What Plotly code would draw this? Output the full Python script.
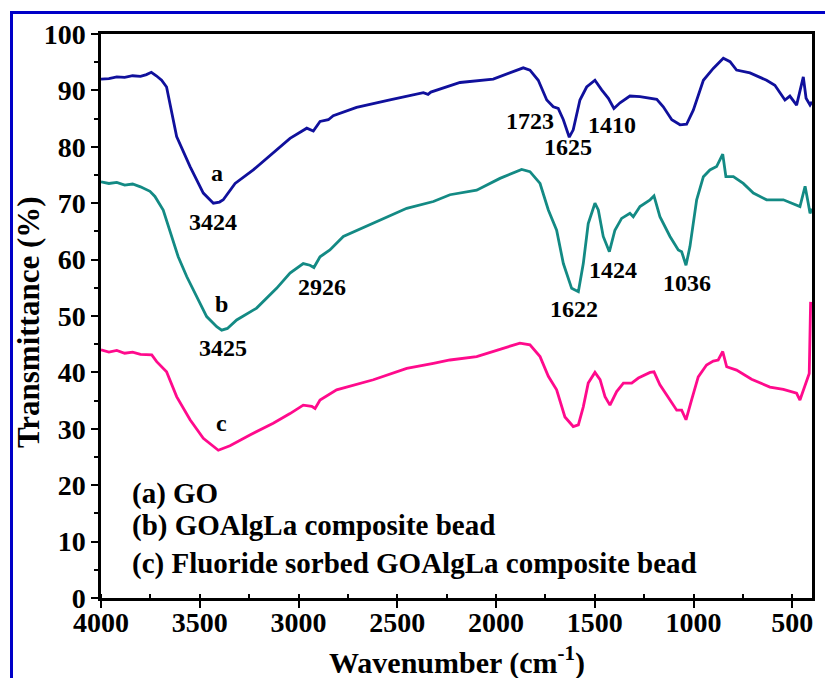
import plotly.graph_objects as go

# ---- data ----
wn_a = [4000, 3960, 3920, 3880, 3840, 3800, 3770, 3745, 3720, 3693,
        3668, 3617, 3549, 3482, 3431, 3400, 3381, 3321, 3229, 3144,
        3043, 2958, 2925, 2891, 2849, 2824, 2706, 2537, 2368, 2344,
        2330, 2182, 2014, 1862, 1828, 1786, 1743, 1710, 1685, 1659,
        1629, 1609, 1575, 1541, 1499, 1465, 1431, 1403, 1372, 1322,
        1271, 1186, 1153, 1110, 1068, 1035, 1001, 950, 900, 849,
        815, 782, 714, 630, 588, 537, 512, 478, 461, 444,
        430, 410, 400]
t_a = [92.0, 92.1, 92.4, 92.3, 92.6, 92.5, 92.8, 93.2, 92.6, 91.8,
       90.6, 81.8, 76.5, 71.8, 70.0, 70.2, 70.6, 73.5, 75.9, 78.5,
       81.5, 83.3, 82.8, 84.5, 84.8, 85.5, 87.0, 88.3, 89.6, 89.3,
       89.7, 91.4, 92.0, 94.0, 93.6, 91.8, 88.3, 87.1, 86.8, 84.8,
       81.7, 83.0, 88.3, 90.6, 91.8, 90.1, 88.6, 86.8, 87.8, 89.0,
       88.9, 88.4, 87.1, 84.8, 83.9, 84.0, 86.5, 91.8, 93.9, 95.7,
       95.1, 93.6, 93.1, 91.8, 90.9, 88.3, 89.0, 87.4, 90.1, 92.4,
       88.6, 87.4, 88.0]

wn_b = [4000, 3960, 3920, 3880, 3840, 3800, 3752, 3727, 3685, 3651,
        3609, 3566, 3516, 3465, 3414, 3389, 3360, 3313, 3212, 3111,
        3043, 2976, 2942, 2922, 2891, 2841, 2773, 2621, 2452, 2317,
        2233, 2098, 1980, 1870, 1828, 1777, 1735, 1693, 1659, 1617,
        1583, 1558, 1533, 1499, 1482, 1457, 1426, 1398, 1364, 1322,
        1305, 1271, 1220, 1200, 1170, 1119, 1077, 1060, 1038, 1018,
        984, 950, 917, 883, 852, 836, 798, 748, 697, 630,
        545, 461, 435, 419, 410, 400]
t_b = [73.8, 73.5, 73.7, 73.2, 73.4, 72.9, 72.1, 71.2, 68.8, 65.2,
       60.5, 57.0, 53.4, 49.9, 48.1, 47.5, 47.8, 49.3, 51.4, 54.9,
       57.6, 59.3, 59.0, 58.6, 60.5, 61.7, 64.1, 66.5, 69.1, 70.3,
       71.5, 72.3, 74.4, 76.0, 75.6, 73.5, 68.8, 65.2, 59.3, 54.9,
       54.3, 59.3, 66.4, 70.0, 68.8, 64.1, 61.4, 65.2, 67.3, 68.2,
       67.6, 69.4, 70.6, 71.3, 67.6, 64.1, 61.7, 61.4, 59.0, 62.3,
       70.6, 74.7, 75.9, 76.5, 78.7, 74.7, 74.7, 73.5, 71.8, 70.6,
       70.6, 69.4, 73.0, 70.0, 68.2, 69.0]

wn_c = [4000, 3960, 3920, 3880, 3840, 3800, 3743, 3718, 3668, 3617,
        3549, 3482, 3406, 3347, 3246, 3128, 3043, 2976, 2933, 2916,
        2891, 2807, 2621, 2452, 2317, 2233, 2098, 1980, 1879, 1828,
        1777, 1735, 1693, 1651, 1609, 1583, 1558, 1533, 1499, 1473,
        1448, 1423, 1389, 1355, 1313, 1279, 1220, 1200, 1170, 1119,
        1085, 1060, 1038, 1010, 976, 934, 900, 875, 852, 832,
        782, 706, 613, 545, 478, 461, 444, 427, 414, 407]
t_c = [44.0, 43.6, 43.9, 43.4, 43.6, 43.2, 43.1, 41.9, 40.1, 35.7,
       31.6, 28.3, 26.2, 27.0, 28.9, 31.0, 32.7, 34.2, 34.0, 33.6,
       35.1, 36.9, 38.7, 40.7, 41.6, 42.2, 42.8, 44.1, 45.2, 44.9,
       42.8, 39.3, 36.9, 32.1, 30.4, 30.7, 33.9, 38.1, 40.0, 38.7,
       35.7, 34.2, 36.6, 38.1, 38.1, 39.0, 40.0, 40.1, 37.8, 35.1,
       33.3, 33.3, 31.6, 35.1, 39.2, 41.3, 42.0, 42.2, 43.7, 41.0,
       40.4, 38.8, 37.4, 37.0, 36.3, 35.1, 36.9, 38.7, 39.8, 52.5]

assert len(wn_a) == len(t_a) and len(wn_b) == len(t_b) and len(wn_c) == len(t_c)

peak_labels = ["a", "3424", "b", "3425", "2926", "1723", "1625", "1410",
               "1622", "1424", "1036", "c"]
peak_x = [3414, 3434, 3390, 3384, 2882, 1828, 1634, 1414, 1605, 1406, 1034, 3389]
peak_y = [75.3, 66.6, 52.2, 44.3, 55.2, 84.5, 80.0, 83.9, 51.2, 58.2, 55.8, 31.0]

legend_lines = ["(a) GO", "(b) GOAlgLa composite bead",
                "(c) Fluoride sorbed GOAlgLa composite bead"]
legend_y = [18.5, 12.8, 6.1]

colors = ["#10109c", "#138a84", "#ff0a8c"]

FONT = "Liberation Serif, Times New Roman, Times, serif"

fig = go.Figure()
for wn, t, col in [(wn_a, t_a, colors[0]), (wn_b, t_b, colors[1]), (wn_c, t_c, colors[2])]:
    fig.add_trace(go.Scatter(x=wn, y=t, mode="lines",
                             line=dict(color=col, width=2.8), showlegend=False))

for txt, xv, yv in zip(peak_labels, peak_x, peak_y):
    fig.add_annotation(x=xv, y=yv, xref="x", yref="y", text="<b>" + txt + "</b>", showarrow=False,
                       font=dict(family=FONT, size=24, color="black"),
                       xanchor="center", yanchor="middle")

for txt, yv in zip(legend_lines, legend_y):
    fig.add_annotation(x=3852, y=yv, xref="x", yref="y", text="<b>" + txt + "</b>", showarrow=False,
                       font=dict(family=FONT, size=29, color="black"),
                       xanchor="left", yanchor="middle")

# axis titles
fig.add_annotation(x=0.5, y=-0.11, xref="paper", yref="paper", yanchor="middle",
                   text="<b>Wavenumber (cm<sup>-1</sup>)</b>", showarrow=False,
                   font=dict(family=FONT, size=30, color="black"))
fig.add_annotation(x=-0.102, y=0.49, xref="paper", yref="paper", xanchor="center",
                   text="<b>Transmittance (%)</b>", showarrow=False, textangle=-90,
                   font=dict(family=FONT, size=31, color="black"))

# blue outer frame (extends beyond the picture to the right and bottom)
fig.add_shape(type="rect", xref="paper", yref="paper",
              x0=(11.5 - 101) / 711, x1=(840 - 101) / 711,
              y0=(598 - 700) / 564, y1=(598 - 12.5) / 564,
              line=dict(color="#0000c8", width=3), fillcolor="rgba(0,0,0,0)")

tickfont = dict(family=FONT, size=28, color="black", weight="bold")
fig.update_xaxes(range=[4000, 400], tickmode="linear", tick0=0, dtick=500,
                 ticks="outside", ticklen=7, tickwidth=2, tickcolor="black",
                 ticklabelstandoff=-9,
                 minor=dict(dtick=250, ticks="inside", ticklen=4, tickwidth=2, tickcolor="black"),
                 showline=True, linecolor="black", linewidth=2.5, mirror=True,
                 showgrid=False, zeroline=False, tickfont=tickfont)
fig.update_yaxes(range=[0, 100], tickmode="linear", tick0=0, dtick=10,
                 ticks="outside", ticklen=7, tickwidth=2, tickcolor="black",
                 minor=dict(dtick=5, ticks="outside", ticklen=4, tickwidth=2, tickcolor="black"),
                 showline=True, linecolor="black", linewidth=2.5, mirror=True,
                 showgrid=False, zeroline=False, tickfont=tickfont)

fig.update_layout(width=825, height=678,
                  margin=dict(l=101, r=13, t=34, b=80, autoexpand=False),
                  plot_bgcolor="white", paper_bgcolor="white")

fig.write_html("out.html")
